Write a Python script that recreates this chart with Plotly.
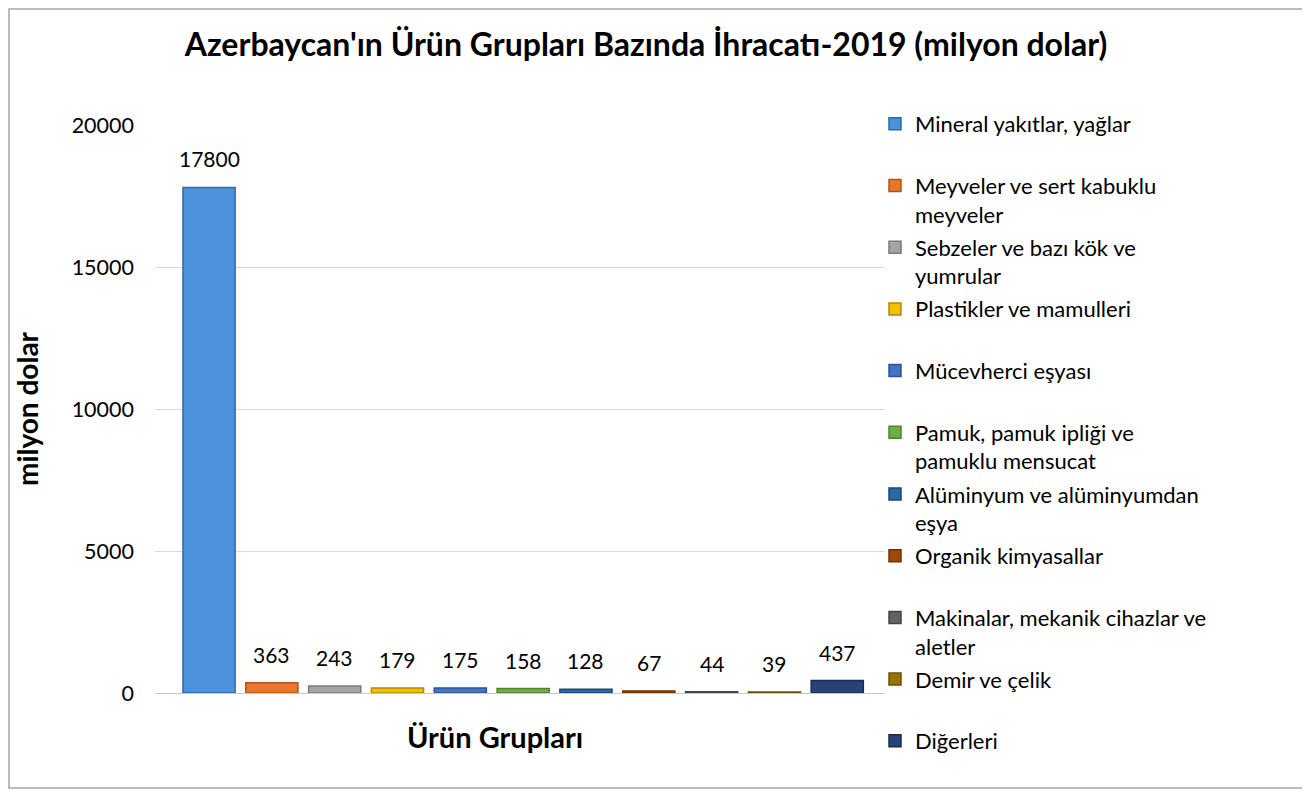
import plotly.graph_objects as go

# Ürün grupları (legend labels, wrapped like the original)
urunler = [
    "Mineral yakıtlar, yağlar",
    "Meyveler ve sert kabuklu<br>meyveler",
    "Sebzeler ve bazı kök ve<br>yumrular",
    "Plastikler ve mamulleri",
    "Mücevherci eşyası",
    "Pamuk, pamuk ipliği ve<br>pamuklu mensucat",
    "Alüminyum ve alüminyumdan<br>eşya",
    "Organik kimyasallar",
    "Makinalar, mekanik cihazlar ve<br>aletler",
    "Demir ve çelik",
    "Diğerleri",
]
ihracat = [17800, 363, 243, 179, 175, 158, 128, 67, 44, 39, 437]
renkler = ["#4B92DB", "#E8772A", "#A5A5A5", "#F2BE00", "#4472C4", "#70AD47",
           "#2A69A3", "#9E480E", "#636363", "#997300", "#264478"]
kenarlar = ["#2F6AA8", "#B0561A", "#7A7A7A", "#B38C00", "#2D5396", "#4F8232",
            "#1B4873", "#6E3209", "#444444", "#6B5000", "#182D52"]
y_ticks = [0, 5000, 10000, 15000, 20000]

FONT = "Lato"

# the page puts the figure 8px in from the top-left corner
OFF = 8
W, H = 1310 - OFF, 792 - OFF
# plot area in screen pixels: x 155..885, y 125..693
L, R, T, B = 155 - OFF, 885 - OFF, 125 - OFF, 693 - OFF
pw, ph = R - L, B - T

def px_x(p):
    return (p - OFF - L) / pw

def px_y(p):
    return (B - (p - OFF)) / ph

fig = go.Figure()
for i, (ad, deger) in enumerate(zip(urunler, ihracat)):
    etiket = ad if ("<br>" in ad or i == len(urunler) - 1) else ad + "<br> "
    fig.add_trace(go.Bar(
        x=[i], y=[deger], name=etiket, legendgroup=str(i),
        marker=dict(color=renkler[i], line=dict(color=kenarlar[i], width=1.5)),
        hoverinfo="name+y",
    ))

# value labels above the bars
etiketler = [dict(x=i, y=v, text=str(v), xref="x", yref="y", showarrow=False,
                  yanchor="bottom", yshift=14,
                  font=dict(size=21, family=FONT, color="#000000"))
             for i, v in enumerate(ihracat)]

fig.update_layout(
    width=W, height=H,
    margin=dict(l=L, r=W - R, t=T, b=H - B),
    paper_bgcolor="white", plot_bgcolor="white",
    font=dict(family=FONT, color="#000000"),
    barmode="relative", bargap=0.17,
    title=dict(text="<b>Azerbaycan'ın Ürün Grupları Bazında İhracatı-2019 (milyon dolar)</b>",
               x=(646 - OFF) / W, xanchor="center", y=1 - (45 - OFF) / H, yanchor="middle",
               font=dict(size=32, family=FONT, color="#000000")),
    xaxis=dict(range=[-0.86, 10.76], showticklabels=False, showgrid=False,
               zeroline=False, showline=False, ticks=""),
    yaxis=dict(range=[0, 20000], tickvals=y_ticks, ticktext=[str(v) for v in y_ticks],
               showgrid=True, gridcolor="#D9D9D9", gridwidth=1,
               zeroline=True, zerolinecolor="#C8C8C8", zerolinewidth=1,
               showline=False, ticks="", ticklabelstandoff=20,
               tickfont=dict(size=21.5, family=FONT, color="#000000"),
               title=dict(text="<b>milyon dolar</b>", standoff=24,
                          font=dict(size=28, family=FONT, color="#000000"))),
    legend=dict(x=px_x(875), xanchor="left", y=px_y(103), yanchor="top",
                bgcolor="rgba(0,0,0,0)", valign="top", maxheight=760,
                tracegroupgap=1.5, traceorder="grouped",
                font=dict(size=22, family=FONT, color="#000000")),
    annotations=etiketler + [
        dict(text="<b>Ürün Grupları</b>", xref="paper", yref="paper",
             x=px_x(495), y=px_y(737), xanchor="center", yanchor="middle",
             showarrow=False, font=dict(size=29, family=FONT, color="#000000"))],
    shapes=[dict(type="rect", xref="paper", yref="paper",
                 x0=px_x(OFF + 1), x1=px_x(1303), y0=px_y(788), y1=px_y(OFF + 1),
                 line=dict(color="#A6A6A6", width=1.5), fillcolor="rgba(0,0,0,0)",
                 layer="below")],
)

fig.write_html("out.html")
